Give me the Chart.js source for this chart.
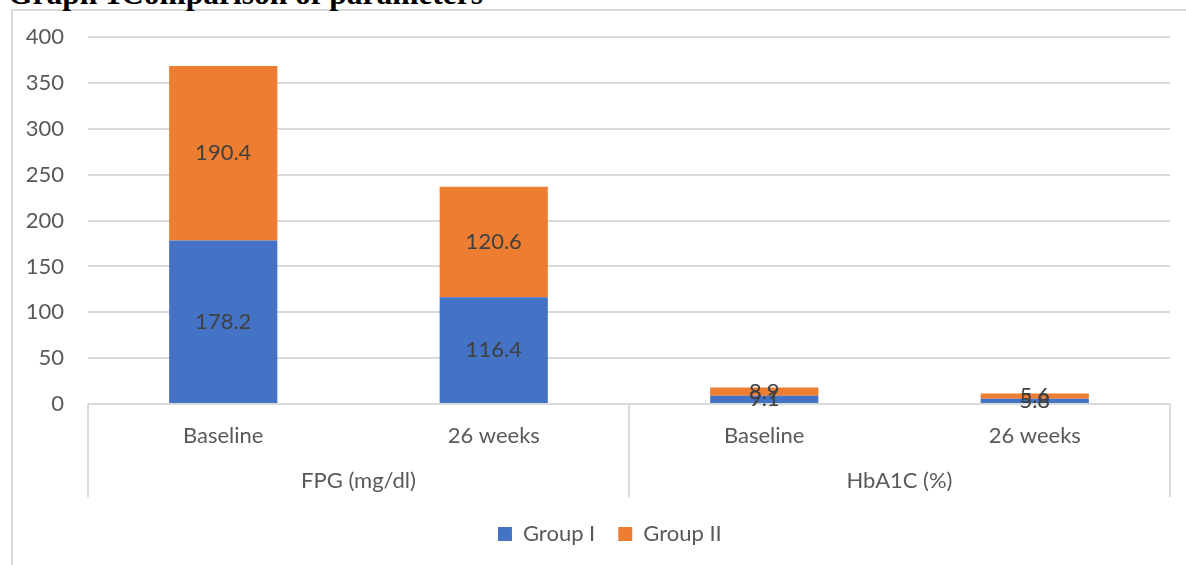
<!DOCTYPE html>
<html>
<head>
<meta charset="utf-8">
<script src="https://cdn.jsdelivr.net/npm/chart.js@4"></script>
<style>
  html, body { margin: 0; padding: 0; background: #fff; overflow: hidden; }
  #frame {
    position: absolute; left: 11px; top: 9px; width: 1300px; height: 700px;
    border: 2px solid #d9d9d9; box-sizing: border-box;
  }
  #title {
    position: absolute; left: 8px; top: -22.5px; margin: 0;
    font: bold 31.5px "Liberation Serif", "Times New Roman", serif; line-height: 31.5px;
    color: #000; white-space: nowrap;
  }
  #wrap { position: absolute; left: 0; top: 0; width: 1186px; height: 565px; }
</style>
</head>
<body>
<div id="frame"></div>
<div id="title">Graph 1Comparison of parameters</div>
<div id="wrap"><canvas id="chart"></canvas></div>
<script>
// Measurement categories and their parameter groups
const categories = ['Baseline', '26 weeks', 'Baseline', '26 weeks'];
const parameterGroups = ['FPG (mg/dl)', 'HbA1C (%)'];

// Values per study group
const groupI = [178.2, 116.4, 9.1, 5.8];
const groupII = [190.4, 120.6, 8.9, 5.6];

// Value axis ticks
const yMin = 0;
const yMax = 400;
const yStep = 50;

const FONT = 'Lato, "Noto Sans", sans-serif';
const TEXT = '#595959';
const GRID = '#d9d9d9';

// Writes each segment's value in the middle of its bar segment
const segmentLabels = {
  id: 'segmentLabels',
  afterDatasetsDraw(chart) {
    const ctx = chart.ctx;
    ctx.save();
    ctx.font = '22px ' + FONT;
    ctx.fillStyle = '#404040';
    ctx.textAlign = 'center';
    ctx.textBaseline = 'middle';
    chart.data.datasets.forEach((ds, di) => {
      const meta = chart.getDatasetMeta(di);
      meta.data.forEach((bar, i) => {
        const cy = (bar.y + bar.base) / 2;
        ctx.fillText(String(ds.data[i]), bar.x, cy);
      });
    });
    ctx.restore();
  }
};

// Vertical dividers separating the parameter groups beneath the axis
const groupDividers = {
  id: 'groupDividers',
  afterDraw(chart) {
    const x = chart.scales.x;
    const x2 = chart.scales.x2;
    const per = categories.length / parameterGroups.length;
    const half = (x.getPixelForValue(1) - x.getPixelForValue(0)) / 2;
    const ctx = chart.ctx;
    ctx.save();
    ctx.strokeStyle = GRID;
    ctx.lineWidth = 2;
    for (let g = 0; g <= parameterGroups.length; g++) {
      const idx = g * per;
      const px = Math.round(idx < categories.length
        ? x.getPixelForValue(idx) - half
        : x.getPixelForValue(categories.length - 1) + half);
      ctx.beginPath();
      ctx.moveTo(px, x.top);
      ctx.lineTo(px, x2.bottom - 3);
      ctx.stroke();
    }
    ctx.restore();
  }
};

// Nudges the legend row so it sits centred under the plot
const legendOffset = {
  id: 'legendOffset',
  afterLayout(chart) {
    const lg = chart.legend;
    if (lg) { lg.left += 24; lg.right += 24; }
  }
};

new Chart(document.getElementById('chart'), {
  type: 'bar',
  data: {
    labels: categories,
    datasets: [
      { label: 'Group I', data: groupI, backgroundColor: '#4472C4', stack: 's' },
      { label: 'Group II', data: groupII, backgroundColor: '#ED7D31', stack: 's' }
    ]
  },
  options: {
    responsive: true,
    maintainAspectRatio: false,
    animation: false,
    devicePixelRatio: 1,
    layout: { padding: { left: 1.7, right: 16, top: 33.8, bottom: 10 } },
    datasets: { bar: { categoryPercentage: 1, barPercentage: 0.4 } },
    scales: {
      x: {
        stacked: true,
        grid: { display: false, drawTicks: true, tickLength: 19 },
        border: { display: false },
        ticks: { color: TEXT, font: { family: FONT, size: 22 }, padding: 0 }
      },
      x2: {
        type: 'category',
        labels: parameterGroups,
        position: 'bottom',
        offset: true,
        grid: { display: false, drawTicks: true, tickLength: 18 },
        border: { display: false },
        ticks: { color: TEXT, font: { family: FONT, size: 22 }, padding: 0 },
        afterFit(scale) { scale.height += 6.2; }
      },
      y: {
        stacked: true,
        min: yMin,
        max: yMax,
        ticks: { stepSize: yStep, color: TEXT, font: { family: FONT, size: 22 }, padding: 24 },
        grid: { color: GRID, lineWidth: 2, drawTicks: false },
        border: { display: false }
      }
    },
    plugins: {
      legend: {
        position: 'bottom',
        labels: { color: TEXT, font: { family: FONT, size: 22 }, boxWidth: 14, boxHeight: 14, padding: 23 }
      },
      tooltip: { enabled: false }
    }
  },
  plugins: [segmentLabels, groupDividers, legendOffset]
});
</script>
</body>
</html>
